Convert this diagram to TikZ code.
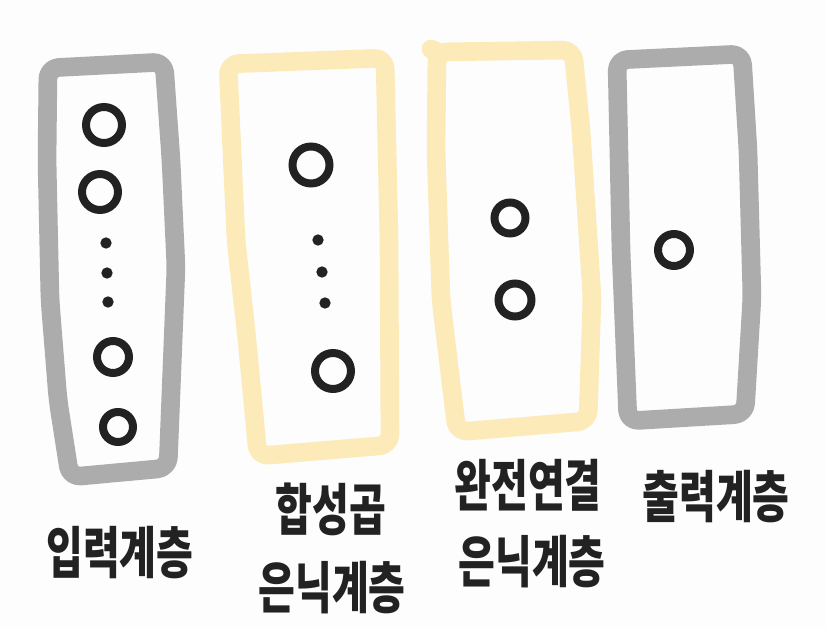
\documentclass[tikz,border=0pt]{standalone}
\usepackage{fontspec}
\newfontfamily\kr{Noto Sans CJK KR}
\definecolor{boxgray}{RGB}{172,172,172}
\definecolor{boxyellow}{RGB}{252,234,185}
\definecolor{ink}{RGB}{34,34,34}
\definecolor{paper}{RGB}{253,253,253}
\begin{document}
\begin{tikzpicture}[x=0.75pt,y=-0.75pt,
  layerbox/.style={line width=14pt,line join=round,line cap=round,rounded corners=8pt},
  graybox/.style={layerbox,draw=boxgray},
  yellowbox/.style={layerbox,draw=boxyellow},
  neuron/.style={circle,draw=ink,line width=6pt,inner sep=0pt},
  dotn/.style={circle,fill=ink,inner sep=0pt,minimum size=8.5pt},
  lbl/.style={font=\kr\bfseries\fontsize{30pt}{33pt}\selectfont,text=ink,inner sep=0pt}]
\useasboundingbox (0,0) rectangle (826,628);
\fill[paper] (0,0) rectangle (826,628);
% layer boxes
\draw[graybox] (48,68) -- (164,62) -- (171,160) -- (176,267) -- (168,468) -- (70,477) -- (58,400) -- (50,300) -- (47,160) -- cycle;
\draw[yellowbox] (228,64) -- (385,58) -- (389,240) -- (390,445) -- (258,456) -- (247,340) -- (236,240) -- cycle;
\draw[yellowbox] (437,52) -- (573,50) -- (581,130) -- (592,297) -- (588,421) -- (457,432) -- (441,300) -- (436,150) -- cycle;
\draw[yellowbox] (431,49) -- (440,53);
\draw[graybox] (617,60) -- (742,54) -- (748,150) -- (752,297) -- (745,414) -- (628,421) -- (621,250) -- cycle;
% input layer neurons
\node[neuron,minimum size=36*0.75pt] (i1) at (104,125) {};
\node[neuron,minimum size=36*0.75pt] (i2) at (100,192) {};
\node[dotn] (id1) at (106,243) {};
\node[dotn] (id2) at (107,273) {};
\node[dotn] (id3) at (108,302) {};
\node[neuron,minimum size=32*0.75pt] (i3) at (113,357) {};
\node[neuron,minimum size=30*0.75pt] (i4) at (118,427) {};
% convolution hidden layer
\node[neuron,minimum size=37*0.75pt] (c1) at (311,165) {};
\node[dotn] (cd1) at (318,240) {};
\node[dotn] (cd2) at (322,272) {};
\node[dotn] (cd3) at (325,303) {};
\node[neuron,minimum size=36*0.75pt] (c2) at (333,371) {};
% fully connected hidden layer
\node[neuron,minimum size=31*0.75pt] (f1) at (510,218) {};
\node[neuron,minimum size=33*0.75pt] (f2) at (515,300) {};
% output layer
\node[neuron,minimum size=32*0.75pt] (o1) at (674,250) {};
% labels
\node[lbl] (l1) at (120,553) {\scalebox{1}[1.4]{입력계층}};
\node[lbl] (l2a) at (331,509) {\scalebox{1}[1.4]{합성곱}};
\node[lbl] (l2b) at (332,588) {\scalebox{1}[1.4]{은닉계층}};
\node[lbl] (l3a) at (528,485) {\scalebox{1}[1.4]{완전연결}};
\node[lbl] (l3b) at (532,562) {\scalebox{1}[1.4]{은닉계층}};
\node[lbl] (l4) at (716,497) {\scalebox{1}[1.4]{출력계층}};
\end{tikzpicture}
\end{document}
